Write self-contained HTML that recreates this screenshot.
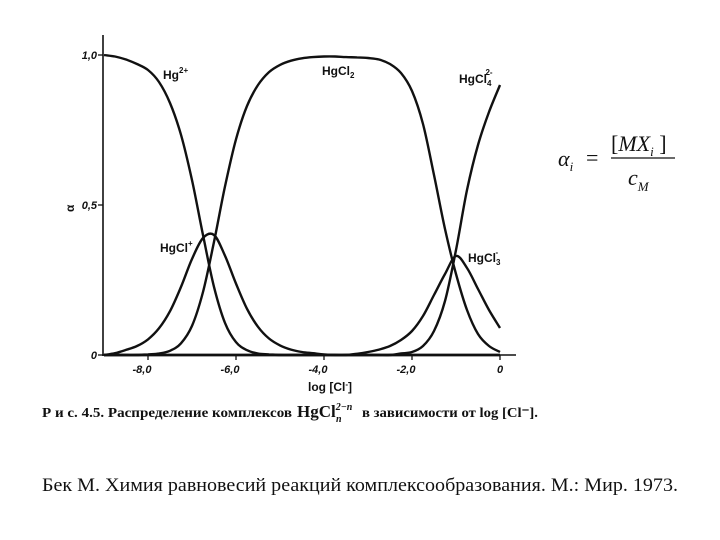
<!DOCTYPE html>
<html><head><meta charset="utf-8"><style>
html,body{margin:0;padding:0;background:#fff;}
svg{display:block;}
text{fill:#111;}
.ax{font-family:"Liberation Sans",sans-serif;font-weight:bold;font-style:italic;font-size:11px;}
.lb{font-family:"Liberation Sans",sans-serif;font-weight:bold;font-size:12px;}
.sr{font-family:"Liberation Serif",serif;}
</style></head><body>
<svg id="chart" width="720" height="540" viewBox="0 0 720 540">
<g id="axes"></g>
<g id="curves"></g>
<text class="lb" x="163" y="79">Hg<tspan dy="-6" font-size="8">2+</tspan></text>
<text class="lb" x="322" y="75">HgCl<tspan dy="3" font-size="8">2</tspan></text>
<text class="lb" x="459" y="83">HgCl<tspan dy="3" font-size="8">4</tspan><tspan dx="-6" dy="-11" font-size="8">2-</tspan></text>
<text class="lb" x="160" y="252">HgCl<tspan dy="-6" font-size="8">+</tspan></text>
<text class="lb" x="468" y="262">HgCl<tspan dy="3" font-size="8">3</tspan><tspan dx="-5" dy="-10" font-size="8">-</tspan></text>
<text class="lb" x="62" y="212" font-size="14" transform="rotate(-90 68 206)">α</text>
<text class="lb" x="308" y="391">log [Cl<tspan dy="-4" font-size="8">-</tspan><tspan dy="4">]</tspan></text>
<text class="sr" x="42" y="417" font-size="14" font-weight="bold"><tspan textLength="250" lengthAdjust="spacingAndGlyphs">Р и с. 4.5.  Распределение комплексов</tspan><tspan x="297" font-size="17">HgCl</tspan><tspan dy="-7" font-size="10" font-style="italic">2−n</tspan><tspan x="336" dy="12" font-size="10" font-style="italic">n</tspan><tspan x="362" dy="-5" textLength="176" lengthAdjust="spacingAndGlyphs">в зависимости от  log [Cl⁻].</tspan></text>
<g class="sr" font-size="22">
<text x="558" y="166" font-style="italic">α<tspan font-size="13" dy="5">i</tspan></text>
<text x="586" y="165">=</text>
<text x="611" y="151">[<tspan font-style="italic">MX</tspan><tspan font-size="13" font-style="italic" dy="5">i</tspan><tspan dy="-5"> ]</tspan></text>
<line x1="611" y1="158" x2="675" y2="158" stroke="#111" stroke-width="1.3"/>
<text x="628" y="185" font-style="italic">c<tspan font-size="13" dy="6">M</tspan></text>
</g>
<text class="sr" x="42" y="491" font-size="19" textLength="636" lengthAdjust="spacingAndGlyphs">Бек М. Химия равновесий реакций комплексообразования. М.: Мир. 1973.</text>
</svg>
<script>
const xVals=[-9,-8.75,-8.5,-8.25,-8,-7.75,-7.5,-7.25,-7,-6.75,-6.5,-6.25,-6,-5.75,-5.5,-5.25,-5,-4.75,-4.5,-4.25,-4,-3.75,-3.5,-3.25,-3,-2.75,-2.5,-2.25,-2,-1.75,-1.5,-1.25,-1,-0.75,-0.5,-0.25,0];
const hg=[1.0,0.995,0.985,0.97,0.95,0.91,0.84,0.734,0.583,0.40,0.227,0.107,0.043,0.016,0.005,0.002,0,0,0,0,0,0,0,0,0,0,0,0,0,0,0,0,0,0,0,0,0];
const hgcl=[0,0.006,0.017,0.03,0.052,0.089,0.146,0.227,0.32,0.39,0.40,0.331,0.238,0.154,0.094,0.055,0.032,0.018,0.01,0.006,0.002,0,0,0,0,0,0,0,0,0,0,0,0,0,0,0,0];
const hgcl2=[0,0,0,0,0.002,0.005,0.014,0.039,0.097,0.21,0.377,0.562,0.719,0.83,0.90,0.943,0.967,0.981,0.989,0.993,0.995,0.995,0.993,0.992,0.99,0.985,0.97,0.94,0.88,0.77,0.6,0.42,0.27,0.15,0.07,0.03,0.01];
const hgcl3=[0,0,0,0,0,0,0,0,0,0,0,0,0,0,0,0,0,0,0,0,0,0,0,0.004,0.01,0.018,0.03,0.05,0.08,0.13,0.2,0.27,0.33,0.29,0.22,0.15,0.09];
const hgcl4=[0,0,0,0,0,0,0,0,0,0,0,0,0,0,0,0,0,0,0,0,0,0,0,0,0,0,0,0.005,0.01,0.03,0.08,0.18,0.35,0.55,0.70,0.81,0.9];
const xTicks=[-8,-6,-4,-2,0];
const xTickLabels=["-8,0","-6,0","-4,0","-2,0","0"];
const yTicks=[0,0.5,1];
const yTickLabels=["0","0,5","1,0"];
const NS="http://www.w3.org/2000/svg";
const X=v=>500+v*44;
const Y=v=>355-v*300;
const axes=document.getElementById('axes');
const curves=document.getElementById('curves');
function mk(t,a,p){const e=document.createElementNS(NS,t);for(const k in a)e.setAttribute(k,a[k]);p.appendChild(e);return e;}
let e=mk('line',{x1:103,y1:35,x2:103,y2:356,stroke:'#111','stroke-width':1.6},axes);


e=mk('line',{x1:102,y1:355,x2:516,y2:355,stroke:'#111','stroke-width':1.6},axes);


xTicks.forEach((t,i)=>{
  let l=mk('line',{x1:X(t),y1:355,x2:X(t),y2:360,stroke:'#111','stroke-width':1.3},axes);
  
  
  let tx=mk('text',{x:X(t)+(t===0?0:-6),y:373,'text-anchor':'middle',class:'ax'},axes);
  tx.textContent=xTickLabels[i];
  
  
});
yTicks.forEach((t,i)=>{
  let l=mk('line',{x1:98,y1:Y(t),x2:103,y2:Y(t),stroke:'#111','stroke-width':1.3},axes);
  
  
  let tx=mk('text',{x:97,y:Y(t)+4,'text-anchor':'end',class:'ax'},axes);
  tx.textContent=yTickLabels[i];
  
  
});
function pathFor(vals){
  const p=xVals.map((x,i)=>[X(x),Y(vals[i])]);
  let d='M'+p[0][0]+','+p[0][1];
  for(let i=0;i<p.length-1;i++){
    const p0=p[Math.max(0,i-1)],p1=p[i],p2=p[i+1],p3=p[Math.min(p.length-1,i+2)];
    const c1=[p1[0]+(p2[0]-p0[0])/6,p1[1]+(p2[1]-p0[1])/6];
    const c2=[p2[0]-(p3[0]-p1[0])/6,p2[1]-(p3[1]-p1[1])/6];
    d+=' C'+c1[0].toFixed(1)+','+c1[1].toFixed(1)+' '+c2[0].toFixed(1)+','+c2[1].toFixed(1)+' '+p2[0].toFixed(1)+','+p2[1].toFixed(1);
  }
  return d;
}
[[hg,'curve-hg2plus'],[hgcl,'curve-hgclplus'],[hgcl2,'curve-hgcl2'],[hgcl3,'curve-hgcl3'],[hgcl4,'curve-hgcl4']].forEach(s=>{
  const pa=mk('path',{d:pathFor(s[0]),fill:'none',stroke:'#111','stroke-width':2.4,'stroke-linejoin':'round'},curves);
  
  
});
</script>
</body></html>
